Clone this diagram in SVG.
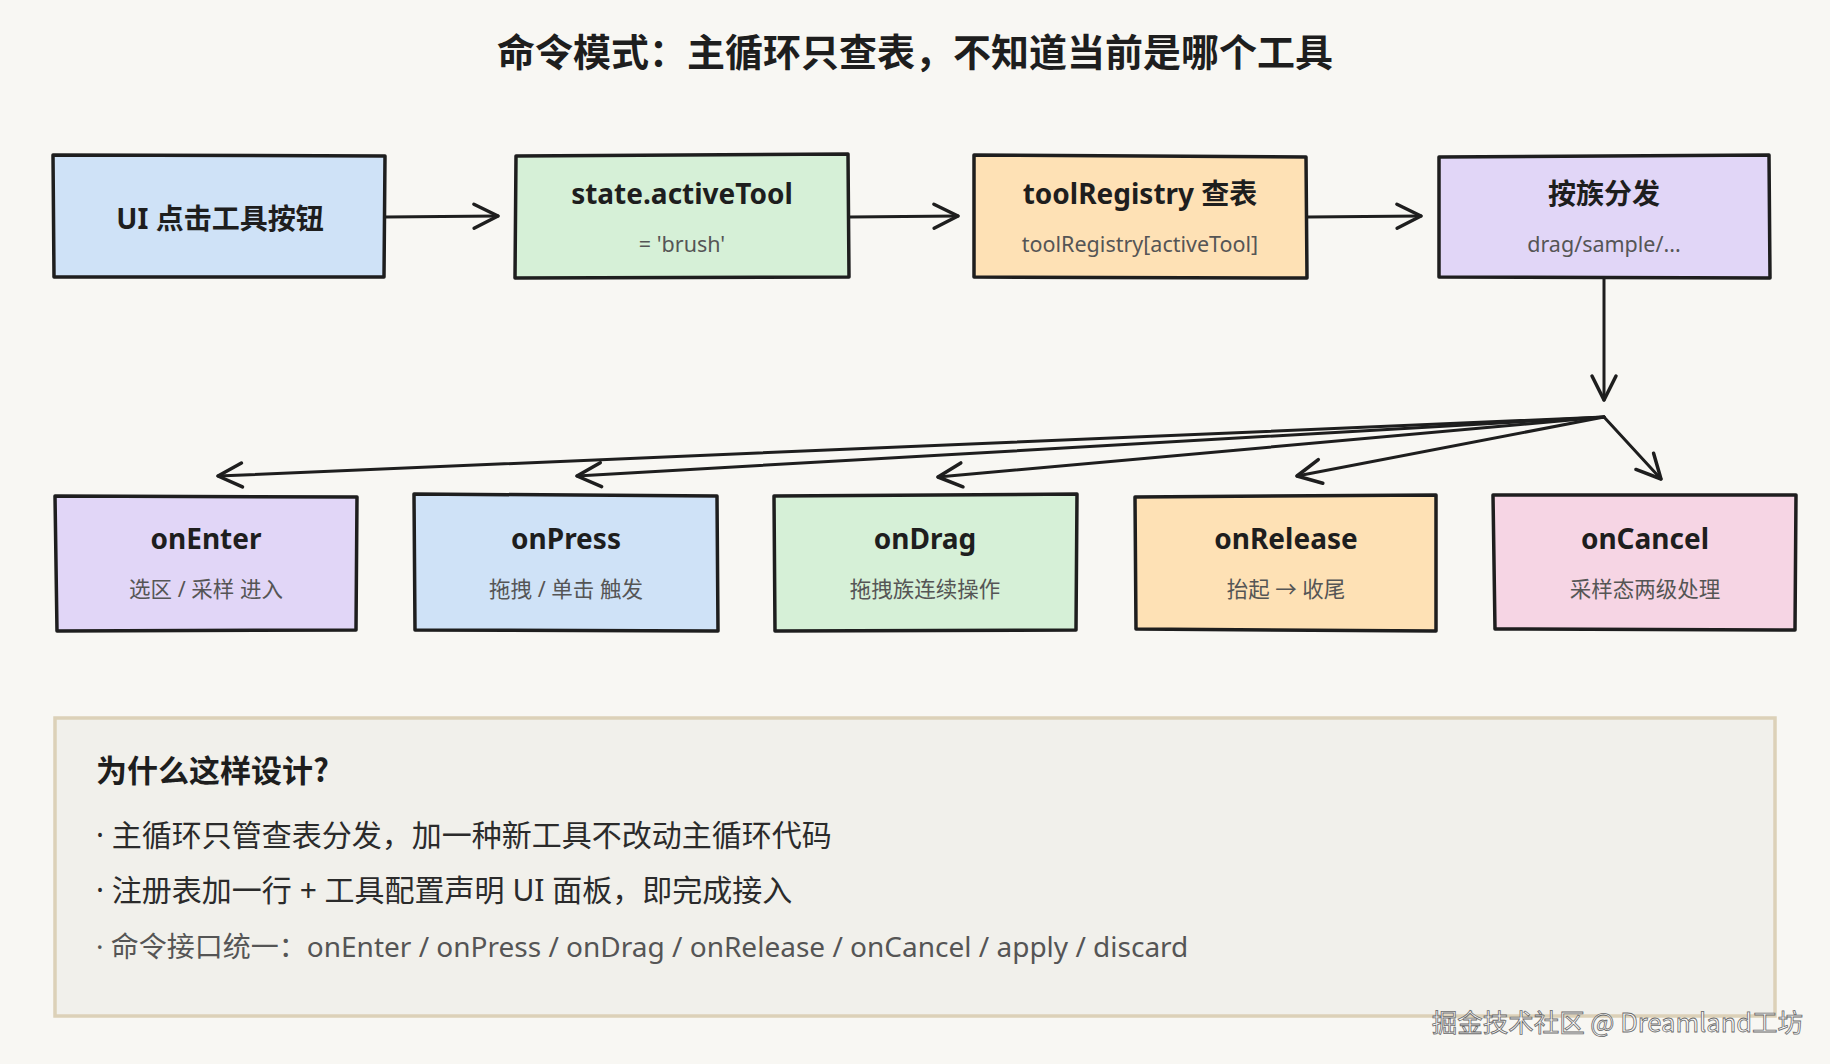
<svg xmlns="http://www.w3.org/2000/svg" width="1830" height="1064" viewBox="0 0 1830 1064">
<defs>
<marker id="chev" viewBox="-28 -15 32 30" refX="0" refY="0" markerWidth="32" markerHeight="30" markerUnits="userSpaceOnUse" orient="auto">
<path d="M-24,-12 L0,0 L-24,12" fill="none" stroke="#1e1e1e" stroke-width="3.5" stroke-linecap="round" stroke-linejoin="round"/>
</marker>
<style>
.box{stroke:#1e1e1e;stroke-width:3.5;stroke-linejoin:round}
.blue{fill:#cfe2f7}.green{fill:#d6f0d7}.orange{fill:#fee1b5}.purple{fill:#e1d6f7}.pink{fill:#f6d5e4}
.t{font-family:"Noto Sans","Noto Sans CJK SC",sans-serif;font-weight:700;font-size:28px;fill:#1e1e1e;text-anchor:middle}
.s{font-family:"Noto Sans","Noto Sans CJK SC",sans-serif;font-size:21.5px;fill:#555;text-anchor:middle}
.c{fill:none;stroke:#1e1e1e;stroke-width:3;stroke-linecap:round;marker-end:url(#chev)}
.p{font-family:"Noto Sans","Noto Sans CJK SC",sans-serif;font-size:30px;fill:#2b2b2b}
.q{font-family:"Noto Sans","Noto Sans CJK SC",sans-serif;font-size:28px;fill:#555}
</style>
</defs>
<rect x="0" y="0" width="1830" height="1064" fill="#f8f7f3"/>
<text x="915" y="66" font-family="'Noto Sans CJK SC','Noto Sans',sans-serif" font-weight="700" font-size="38" fill="#1e1e1e" text-anchor="middle">命令模式：主循环只查表，不知道当前是哪个工具</text>

<g id="connectors">
<path class="c" d="M386,217 L498,216"/>
<path class="c" d="M850,217 L958,216"/>
<path class="c" d="M1308,217 L1421,216"/>
<path class="c" d="M1604,279 L1604,400"/>
<path class="c" d="M1604,417 L218,476"/>
<path class="c" d="M1604,417 L577,476"/>
<path class="c" d="M1604,417 L938,477"/>
<path class="c" d="M1604,417 L1297,476"/>
<path class="c" d="M1604,417 L1661,479"/>
</g>

<g id="n-ui">
<path class="box blue" d="M53,155 L385,156 L384,277 L54,277 Z"/>
<text class="t" x="220" y="229" font-size="30.5">UI 点击工具按钮</text>
</g>
<g id="n-state">
<path class="box green" d="M516,156 L848,154 L849,277 L515,278 Z"/>
<text class="t" x="682" y="204">state.activeTool</text>
<text class="s" x="682" y="252">= 'brush'</text>
</g>
<g id="n-registry">
<path class="box orange" d="M974,155 L1306,157 L1307,278 L974,277 Z"/>
<text class="t" x="1140" y="204">toolRegistry 查表</text>
<text class="s" x="1140" y="252">toolRegistry[activeTool]</text>
</g>
<g id="n-dispatch">
<path class="box purple" d="M1439,157 L1769,155 L1770,278 L1439,277 Z"/>
<text class="t" x="1604" y="204">按族分发</text>
<text class="s" x="1604" y="252">drag/sample/...</text>
</g>

<g id="n-onenter">
<path class="box purple" d="M55,496 L357,497 L356,630 L57,631 Z"/>
<text class="t" x="206" y="549">onEnter</text>
<text class="s" x="206" y="597">选区 / 采样 进入</text>
</g>
<g id="n-onpress">
<path class="box blue" d="M414,494 L717,496 L718,631 L415,630 Z"/>
<text class="t" x="566" y="549">onPress</text>
<text class="s" x="566" y="597">拖拽 / 单击 触发</text>
</g>
<g id="n-ondrag">
<path class="box green" d="M774,496 L1077,494 L1076,630 L775,631 Z"/>
<text class="t" x="925" y="549">onDrag</text>
<text class="s" x="925" y="597">拖拽族连续操作</text>
</g>
<g id="n-onrelease">
<path class="box orange" d="M1135,497 L1436,495 L1436,631 L1136,629 Z"/>
<text class="t" x="1286" y="549">onRelease</text>
<text class="s" x="1286" y="597">抬起 → 收尾</text>
</g>
<g id="n-oncancel">
<path class="box pink" d="M1493,495 L1796,495 L1795,630 L1495,629 Z"/>
<text class="t" x="1645" y="549">onCancel</text>
<text class="s" x="1645" y="597">采样态两级处理</text>
</g>

<g id="n-why">
<rect x="55" y="718" width="1720" height="298" fill="#f1f0eb" stroke="#dcd1b8" stroke-width="3.5"/>
<text x="96" y="782" font-family="'Noto Sans CJK SC','Noto Sans',sans-serif" font-weight="700" font-size="31" fill="#1e1e1e">为什么这样设计?</text>
<text class="p" x="96" y="846">· 主循环只管查表分发，加一种新工具不改动主循环代码</text>
<text class="p" x="96" y="901">· 注册表加一行 + 工具配置声明 UI 面板，即完成接入</text>
<text class="q" x="96" y="957">· 命令接口统一：onEnter / onPress / onDrag / onRelease / onCancel / apply / discard</text>
</g>
<text x="1803" y="1032" font-family="'Noto Sans CJK SC','Noto Sans',sans-serif" font-size="25.5" fill="#fafafa" stroke="#6a6a6a" stroke-width="0.8" text-anchor="end">掘金技术社区 @ Dreamland工坊</text>
</svg>
